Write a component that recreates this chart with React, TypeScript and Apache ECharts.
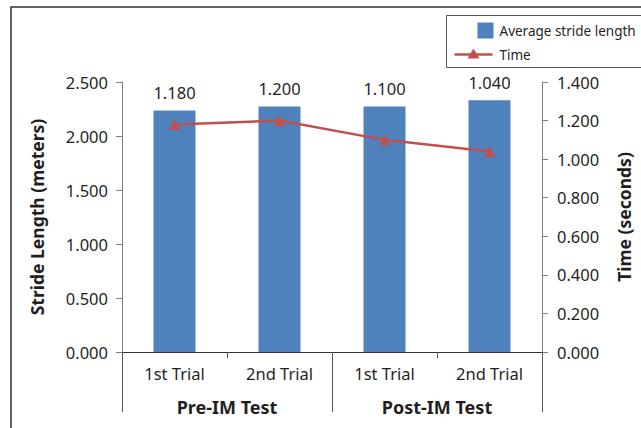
import React, { useEffect, useRef } from "react";
import * as echarts from "echarts";

// Chart data
const trials = ["1st Trial", "2nd Trial", "1st Trial", "2nd Trial"];
const testGroups = ["Pre-IM Test", "Post-IM Test"];
const strideLength = [2.237, 2.274, 2.274, 2.33];
const timeSeconds = [1.18, 1.2, 1.1, 1.04];

const FONT = "'Noto Sans', 'Open Sans', sans-serif";
const TEXT = "#1f1f1f";
const BAR_COLOR = "#4F81BD";
const LINE_COLOR = "#C0504D";

export default function App() {
  const ref = useRef<HTMLDivElement>(null);

  useEffect(() => {
    document.body.style.margin = "0";
    if (!ref.current) return;
    const chart = echarts.init(ref.current, undefined, { renderer: "svg" });

    const fmt3 = (v: number) => v.toFixed(3);

    chart.setOption({
      animation: false,
      backgroundColor: "#ffffff",
      textStyle: { fontFamily: FONT },
      grid: { left: 122, right: 95, top: 82, bottom: 76, containLabel: false },
      xAxis: [
        {
          type: "category",
          data: trials,
          position: "bottom",
          boundaryGap: true,
          axisLine: { show: true, lineStyle: { color: "#333333", width: 1.2 } },
          axisTick: { show: true, length: 6, lineStyle: { color: "#555555", width: 1 } },
          axisLabel: { margin: 13, fontSize: 16.5, color: TEXT, fontFamily: FONT },
          splitLine: { show: false },
        },
        {
          type: "category",
          data: testGroups,
          position: "bottom",
          boundaryGap: true,
          axisLine: { show: false },
          axisTick: { show: true, length: 60, lineStyle: { color: "#555555", width: 1 } },
          axisLabel: {
            margin: 46,
            fontSize: 18,
            fontWeight: "bold",
            color: TEXT,
            fontFamily: FONT,
          },
          splitLine: { show: false },
        },
      ],
      yAxis: [
        {
          type: "value",
          min: 0,
          max: 2.5,
          interval: 0.5,
          position: "left",
          name: "Stride Length (meters)",
          nameLocation: "middle",
          nameRotate: 90,
          nameGap: 76,
          nameTextStyle: { fontSize: 17.5, fontWeight: "bold", color: TEXT, fontFamily: FONT },
          axisLine: { show: true, lineStyle: { color: "#808080", width: 1 } },
          axisTick: { show: true, length: 6, lineStyle: { color: "#808080" } },
          axisLabel: { formatter: fmt3, fontSize: 16.5, color: TEXT, margin: 14, fontFamily: FONT },
          splitLine: { show: false },
        },
        {
          type: "value",
          min: 0,
          max: 1.4,
          interval: 0.2,
          position: "right",
          name: "Time (seconds)",
          nameLocation: "middle",
          nameRotate: 90,
          nameGap: 73,
          nameTextStyle: { fontSize: 17.5, fontWeight: "bold", color: TEXT, fontFamily: FONT },
          axisLine: { show: true, lineStyle: { color: "#808080", width: 1 } },
          axisTick: { show: true, length: 6, lineStyle: { color: "#808080" } },
          axisLabel: { formatter: fmt3, fontSize: 16.5, color: TEXT, margin: 15, fontFamily: FONT },
          splitLine: { show: false },
        },
      ],
      series: [
        {
          name: "Average stride length",
          type: "bar",
          xAxisIndex: 0,
          yAxisIndex: 0,
          data: strideLength,
          barWidth: "40%",
          itemStyle: { color: BAR_COLOR },
          label: {
            show: true,
            position: "top",
            distance: 9,
            fontSize: 16.5,
            color: TEXT,
            fontFamily: FONT,
            formatter: (p: any) => fmt3(timeSeconds[p.dataIndex]),
          },
        },
        {
          name: "Time",
          type: "line",
          xAxisIndex: 0,
          yAxisIndex: 1,
          data: timeSeconds,
          symbol: "triangle",
          symbolSize: 11,
          lineStyle: { color: LINE_COLOR, width: 2.5 },
          itemStyle: { color: LINE_COLOR },
          z: 5,
        },
      ],
      graphic: [
        // outer frame (top and left edges)
        {
          type: "polyline",
          shape: { points: [[11, 430], [11, 7], [645, 7]] },
          style: { stroke: "#333333", lineWidth: 1.5, fill: "none" },
          silent: true,
        },
        // legend box
        {
          type: "group",
          left: 446,
          top: 15,
          children: [
            {
              type: "rect",
              shape: { x: 0, y: 0, width: 210, height: 52 },
              style: { stroke: "#555555", lineWidth: 1, fill: "#ffffff" },
            },
            {
              type: "rect",
              shape: { x: 31, y: 7, width: 16, height: 16 },
              style: { fill: BAR_COLOR },
            },
            {
              type: "text",
              x: 53,
              y: 15,
              style: {
                text: "Average stride length",
                fontSize: 13.5,
                fontFamily: FONT,
                fill: TEXT,
                verticalAlign: "middle",
              },
            },
            {
              type: "line",
              shape: { x1: 8, y1: 39, x2: 46, y2: 39 },
              style: { stroke: LINE_COLOR, lineWidth: 2.5 },
            },
            {
              type: "polygon",
              shape: { points: [[27, 33], [33, 43], [21, 43]] },
              style: { fill: LINE_COLOR },
            },
            {
              type: "text",
              x: 53,
              y: 39,
              style: {
                text: "Time",
                fontSize: 13.5,
                fontFamily: FONT,
                fill: TEXT,
                verticalAlign: "middle",
              },
            },
          ],
        },
      ],
    });

    return () => chart.dispose();
  }, []);

  return <div ref={ref} style={{ width: 641, height: 428 }} />;
}
